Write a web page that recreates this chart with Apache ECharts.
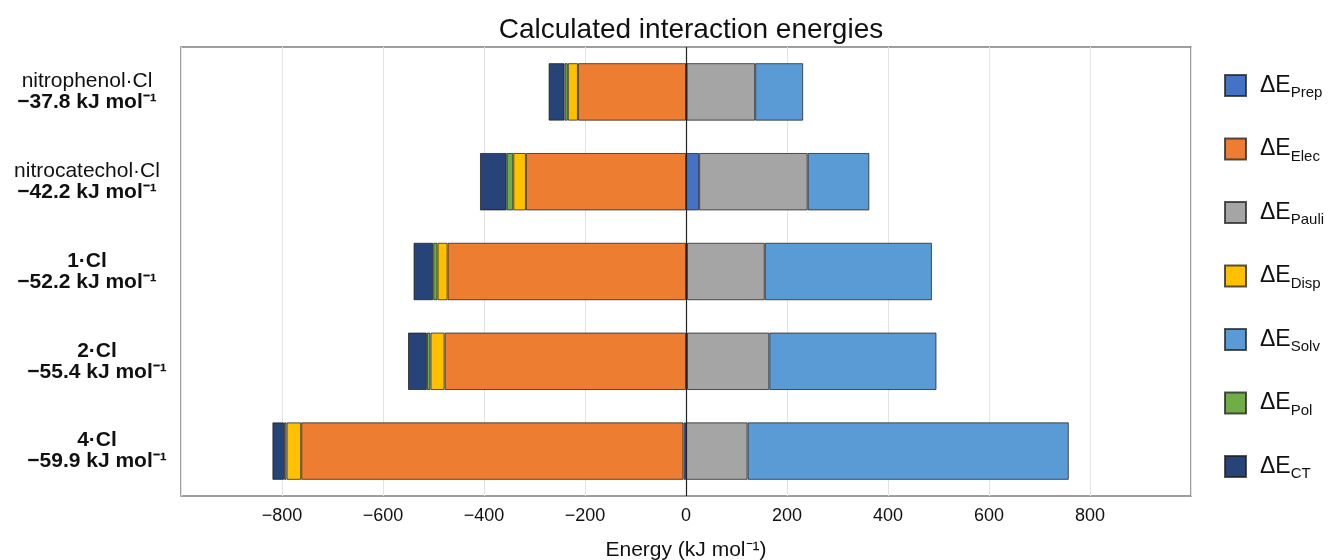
<!DOCTYPE html>
<html>
<head>
<meta charset="utf-8">
<title>Calculated interaction energies</title>
<script src="https://cdn.jsdelivr.net/npm/echarts@6/dist/echarts.min.js"></script>
<style>
    html, body { margin: 0; padding: 0; background: #fff; }
    #chart { width: 1336px; height: 560px; }
</style>
</head>
<body>
<div id="chart"></div>
<script>
'use strict';
// complexes, top to bottom
var categories = ['nitrophenol·Cl', 'nitrocatechol·Cl', '1·Cl', '2·Cl', '4·Cl'];
var totals = ['−37.8', '−42.2', '−52.2', '−55.4', '−59.9'];
var boldNames = [false, false, true, true, true];

// energy terms (kJ/mol)
var prep  = [1, 26, 2, 2, -5];
var elec  = [-214, -317, -472, -478, -757];
var pauli = [136, 215, 154, 163, 122];
var disp  = [-20, -25, -20, -28, -29];
var solv  = [95, 122, 331, 331, 636];
var pol   = [-6.5, -13, -8.5, -7, -5];
var ct    = [-31.6, -53, -39, -37.5, -23];

var terms = [
    { sub: 'Prep',  data: prep,  color: '#4472C4' },
    { sub: 'Elec',  data: elec,  color: '#ED7D31' },
    { sub: 'Pauli', data: pauli, color: '#A5A5A5' },
    { sub: 'Disp',  data: disp,  color: '#FFC000' },
    { sub: 'Solv',  data: solv,  color: '#5B9BD5' },
    { sub: 'Pol',   data: pol,   color: '#70AD47' },
    { sub: 'CT',    data: ct,    color: '#264478' }
];

var font = 'Liberation Sans, Arial, sans-serif';

var series = terms.map(function (t, i) {
    var s = {
        name: t.sub,
        type: 'bar',
        stack: 'energy',
        barWidth: '64%',
        data: t.data,
        itemStyle: {
            color: t.color,
            borderColor: 'rgba(30,30,30,0.75)',
            borderWidth: 1
        }
    };
    if (i === 0) {
        // zero line
        s.markLine = {
            silent: true,
            symbol: 'none',
            label: { show: false },
            lineStyle: { color: '#222', width: 1.2, type: 'solid' },
            data: [{ xAxis: 0 }]
        };
    }
    return s;
});

var myChart = echarts.init(document.getElementById('chart'));
var option = {
    animation: false,
    textStyle: { fontFamily: font },
    title: {
        text: 'Calculated interaction energies',
        left: 686,
        textAlign: 'center',
        top: 11,
        textStyle: { fontSize: 28, fontWeight: 'normal', color: '#111', fontFamily: font }
    },
    grid: {
        left: 181,
        right: 145,
        top: 47,
        bottom: 64,
        outerBoundsMode: 'none',
        show: true,
        borderColor: '#808080',
        borderWidth: 1.5
    },
    legend: {
        orient: 'vertical',
        left: 1219,
        top: 69,
        itemWidth: 21,
        itemHeight: 21,
        itemGap: 37,
        icon: 'rect',
        data: terms.map(function (t) { return t.sub; }),
        formatter: function (name) {
            return '{d|ΔE}{s|' + name + '}';
        },
        textStyle: {
            rich: {
                d: { fontSize: 23, color: '#111', fontFamily: font, padding: [0, 0, 0, 9] },
                s: { fontSize: 15, color: '#111', fontFamily: font, padding: [15, 0, 0, 0] }
            }
        }
    },
    xAxis: {
        type: 'value',
        min: -1000,
        max: 1000,
        interval: 200,
        name: 'Energy (kJ mol⁻¹)',
        nameLocation: 'middle',
        nameGap: 44,
        nameTextStyle: { fontSize: 21, color: '#111', fontFamily: font },
        axisLine: { show: false },
        axisTick: { show: false },
        axisLabel: {
            fontSize: 18,
            color: '#111',
            margin: 11,
            formatter: function (v) {
                if (Math.abs(v) >= 1000) return '';
                return v < 0 ? '−' + Math.abs(v) : String(v);
            }
        },
        splitLine: { lineStyle: { color: '#e3e3e3', width: 1 } }
    },
    yAxis: {
        type: 'category',
        inverse: true,
        data: categories,
        axisLine: { show: false },
        axisTick: { show: false },
        axisLabel: {
            align: 'center',
            margin: 94,
            formatter: function (name, idx) {
                // the two lowest labels sit a little further right in the figure
                var sfx = idx >= 3 ? 'r' : '';
                var first = boldNames[idx] ? '{nb' + sfx + '|' + name + '}' : '{n' + sfx + '|' + name + '}';
                return first + '\n{b' + sfx + '|' + totals[idx] + ' kJ mol⁻¹}';
            },
            rich: {
                n:   { fontSize: 21, color: '#111', lineHeight: 21, fontFamily: font },
                nb:  { fontSize: 21, color: '#111', lineHeight: 21, fontWeight: 'bold', fontFamily: font },
                b:   { fontSize: 21, color: '#111', lineHeight: 21, fontWeight: 'bold', fontFamily: font },
                nbr: { fontSize: 21, color: '#111', lineHeight: 21, fontWeight: 'bold', fontFamily: font, padding: [0, 0, 0, 20] },
                br:  { fontSize: 21, color: '#111', lineHeight: 21, fontWeight: 'bold', fontFamily: font, padding: [0, 0, 0, 20] }
            }
        }
    },
    series: series
};
myChart.setOption(option);
</script>
</body>
</html>
